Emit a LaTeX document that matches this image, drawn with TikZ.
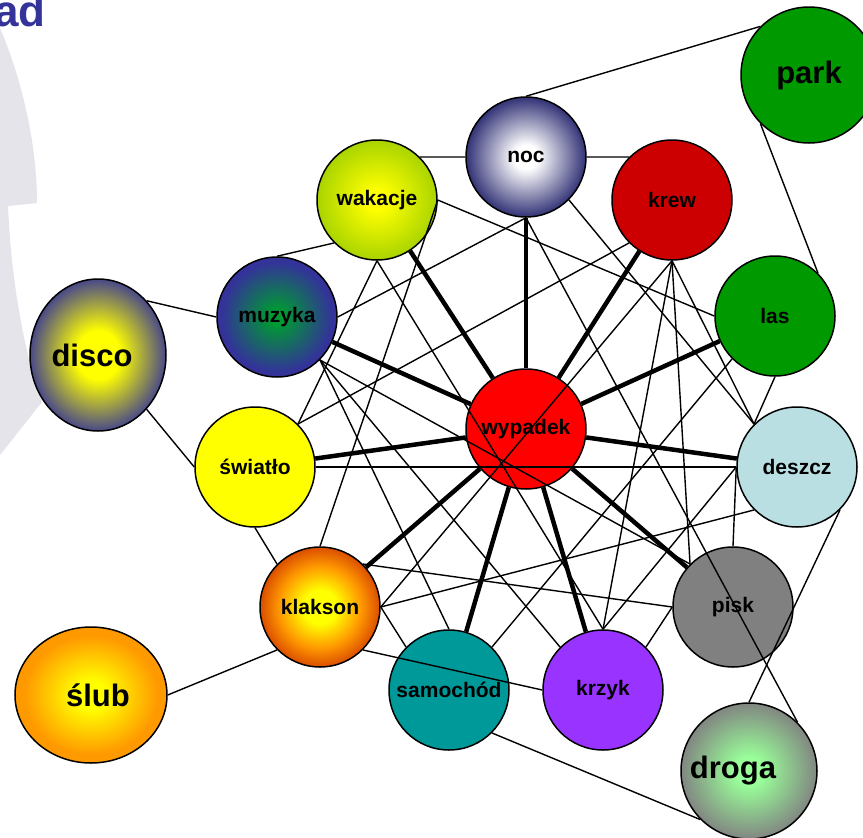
\documentclass[tikz,border=0pt]{standalone}
\usepackage{fontspec}
\setmainfont{Liberation Sans}
\usetikzlibrary{shapes.geometric}
\definecolor{navyA}{RGB}{51,51,153}
\definecolor{navyB}{RGB}{30,30,105}
\definecolor{greenM}{RGB}{0,153,51}
\definecolor{yellowA}{RGB}{255,255,0}
\definecolor{limeA}{RGB}{153,204,0}
\definecolor{rustA}{RGB}{200,40,0}
\definecolor{orangeA}{RGB}{255,153,0}
\definecolor{mintA}{RGB}{153,255,153}
\definecolor{greyA}{RGB}{128,128,128}
\definecolor{krewC}{RGB}{204,0,0}
\definecolor{lasC}{RGB}{0,153,0}
\definecolor{deszczC}{RGB}{185,223,227}
\definecolor{krzykC}{RGB}{153,51,255}
\definecolor{samoC}{RGB}{0,153,153}
\definecolor{wypC}{RGB}{255,0,0}
\definecolor{bgGrey}{RGB}{228,228,234}
\definecolor{titleC}{RGB}{51,51,153}
\pgfdeclareradialshading{discoShade}{\pgfpoint{0bp}{0bp}}{color(0bp)=(yellowA); color(8bp)=(yellowA); color(27bp)=(navyA); color(100bp)=(navyA)}
\pgfdeclareradialshading{muzykaShade}{\pgfpoint{0bp}{0bp}}{color(0bp)=(greenM); color(3bp)=(greenM); color(23bp)=(navyA); color(100bp)=(navyA)}
\pgfdeclareradialshading{nocShade}{\pgfpoint{0bp}{0bp}}{color(0bp)=(white); color(5bp)=(white); color(27bp)=(navyB); color(100bp)=(navyB)}
\pgfdeclareradialshading{wakacjeShade}{\pgfpoint{0bp}{0bp}}{color(0bp)=(yellowA); color(4bp)=(yellowA); color(29bp)=(limeA); color(100bp)=(limeA)}
\pgfdeclareradialshading{klaksonShade}{\pgfpoint{0bp}{0bp}}{color(0bp)=(yellowA); color(7bp)=(yellowA); color(17bp)=(orangeA); color(29bp)=(rustA); color(100bp)=(rustA)}
\pgfdeclareradialshading{slubShade}{\pgfpoint{0bp}{0bp}}{color(0bp)=(yellowA); color(5bp)=(yellowA); color(22bp)=(orangeA); color(100bp)=(orangeA)}
\pgfdeclareradialshading{drogaShade}{\pgfpoint{0bp}{0bp}}{color(0bp)=(mintA); color(5bp)=(mintA); color(26bp)=(greyA); color(100bp)=(greyA)}
\begin{document}
\begin{tikzpicture}[x=1pt,y=-1pt,
  ball/.style={circle, draw=black, line width=1.5pt, minimum size=120pt, inner sep=0pt,
    font=\bfseries\fontsize{21}{21}\selectfont},
  bigball/.style={ball, font=\bfseries\fontsize{31}{31}\selectfont},
  link/.style={line width=1.4pt, black},
  heavy/.style={line width=4.5pt, black}]
\clip (0,0) rectangle (863,838);
\fill[white] (0,0) rectangle (863,838);
% background shape
\fill[bgGrey] (0,28) .. controls (20,75) and (37,140) .. (37,203) -- (8,206)
  .. controls (12,300) and (30,370) .. (42,402) -- (0,455) -- cycle;
\node[anchor=base east, inner sep=0pt, text=titleC,
  font=\bfseries\fontsize{44}{44}\selectfont] (title) at (46,26) {ad};
% nodes
\node[bigball, fill=lasC, minimum size=136pt] (park) at (809,75) {\raisebox{5pt}{park}};
\node[bigball, ellipse, minimum width=136pt, minimum height=152pt, shading=discoShade] (disco) at (98,355) {\hspace*{-12pt}disco};
\node[bigball, ellipse, minimum width=152pt, minimum height=136pt, shading=slubShade] (slub) at (91,695) {\hspace*{14pt}\raisebox{-6pt}{ślub}};
\node[bigball, minimum size=136pt, shading=drogaShade] (droga) at (749,771) {\hspace*{-32pt}\raisebox{-9pt}{droga}};
\node[ball, shading=nocShade] (noc) at (526,157) {noc};
\node[ball, shading=wakacjeShade] (wakacje) at (377,200) {wakacje};
\node[ball, fill=krewC] (krew) at (672,200) {krew};
\node[ball, fill=lasC] (las) at (775,316) {las};
\node[ball, fill=deszczC] (deszcz) at (797,467) {deszcz};
\node[ball, fill=greyA] (pisk) at (733,607) {pisk};
\node[ball, fill=krzykC] (krzyk) at (603,690) {krzyk};
\node[ball, fill=samoC] (samochod) at (449,690) {samochód};
\node[ball, shading=klaksonShade] (klakson) at (320,607) {klakson};
\node[ball, fill=yellowA] (swiatlo) at (255,467) {światło};
\node[ball, shading=muzykaShade] (muzyka) at (277,317) {muzyka};
\node[ball, fill=wypC] (wypadek) at (526,429) {wypadek};
% thin links
\draw[link] (noc.north) -- (park.north west);
\draw[link] (park.south west) -- (las.north east);
\draw[link] (disco.north east) -- (muzyka.west);
\draw[link] (disco.south east) -- (swiatlo.west);
\draw[link] (swiatlo.south) -- (klakson.north west);
\draw[link] (slub.east) -- (klakson.south west);
\draw[link] (samochod.south east) -- (droga.south west);
\draw[link] (deszcz.south east) -- (droga.north);
\draw[link] (noc.south) -- (droga.north east);
\draw[link] (noc.west) -- (wakacje.north east);
\draw[link] (noc.east) -- (krew.north west);
\draw[link] (wakacje.south west) -- (muzyka.north);
\draw[link] (las.south) -- (deszcz.north west);
\draw[link] (klakson.east) -- (samochod.north west);
\draw[link] (deszcz.west) -- (pisk.north);
\draw[link] (krzyk.north east) -- (pisk.west);
\draw[link] (swiatlo.east) -- (deszcz.west);
\draw[link] (noc.south) -- (muzyka.east);
\draw[link] (noc.south east) -- (deszcz.north west);
\draw[link] (wakacje.east) -- (las.west);
\draw[link] (wakacje.south) -- (swiatlo.north east);
\draw[link] (wakacje.east) -- (klakson.north);
\draw[link] (wakacje.south) -- (krzyk.north);
\draw[link] (krew.south west) -- (swiatlo.north east);
\draw[link] (krew.south) -- (klakson.east);
\draw[link] (krew.south) -- (krzyk.north);
\draw[link] (krew.south) -- (pisk.north west);
\draw[link] (krew.south) -- (deszcz.north west);
\draw[link] (las.south west) -- (samochod.north east);
\draw[link] (muzyka.south east) -- (samochod.north);
\draw[link] (muzyka.south east) -- (krzyk.north west);
\draw[link] (muzyka.south east) -- (pisk.north west);
\draw[link] (klakson.south east) -- (krzyk.west);
\draw[link] (klakson.north east) -- (pisk.west);
\draw[link] (klakson.east) -- (deszcz.south west);
\draw[link] (krzyk.north) -- (deszcz.west);
% heavy links
\foreach \n in {wakacje,noc,krew,las,deszcz,pisk,krzyk,samochod,klakson,swiatlo,muzyka}
  \draw[heavy] (wypadek) -- (\n);
\end{tikzpicture}
\end{document}
